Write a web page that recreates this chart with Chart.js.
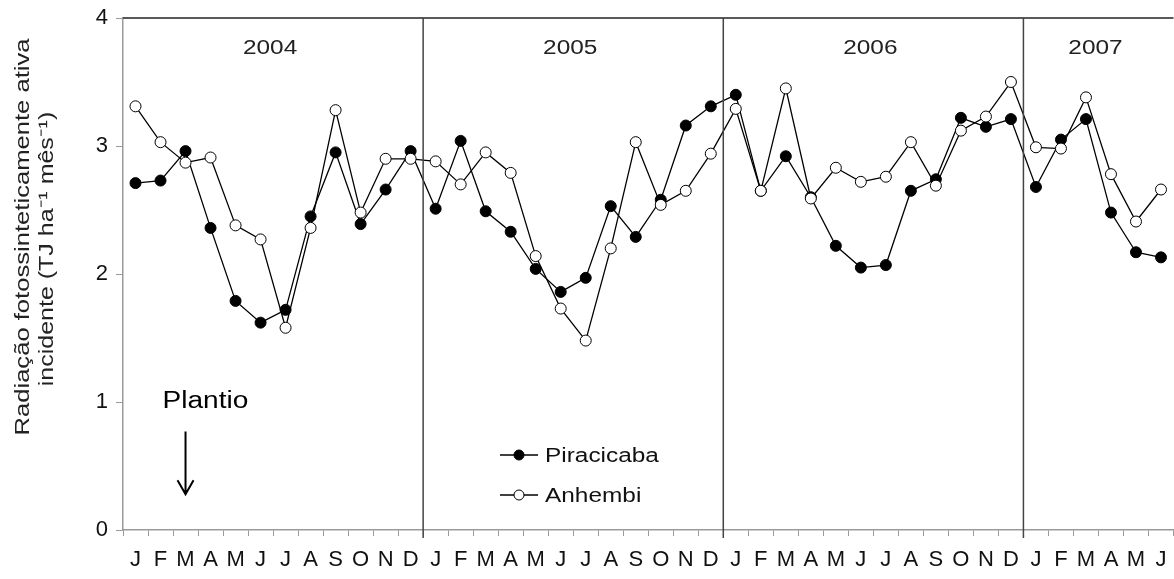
<!DOCTYPE html>
<html>
<head>
<meta charset="utf-8">
<script src="https://cdn.jsdelivr.net/npm/chart.js@4"></script>
<style>
  html, body { margin: 0; padding: 0; background: #fff; overflow: hidden; }
  /* slightly wider than the window: the source plot runs off the right edge */
  #wrap { width: 1180px; height: 579px; position: relative; }
</style>
</head>
<body>
<div id="wrap"><canvas id="chart"></canvas></div>
<script>
// ============ DATA ============
const MONTHS = ['J', 'F', 'M', 'A', 'M', 'J', 'J', 'A', 'S', 'O', 'N', 'D'];
const YEARS = ['2004', '2005', '2006', '2007'];
const MONTHS_PER_YEAR = [12, 12, 12, 6];

const PIRACICABA = [
  2.71, 2.73, 2.96, 2.36, 1.79, 1.62, 1.72, 2.45, 2.95, 2.39, 2.66, 2.96,
  2.51, 3.04, 2.49, 2.33, 2.04, 1.86, 1.97, 2.53, 2.29, 2.58, 3.16, 3.31,
  3.40, 2.65, 2.92, 2.60, 2.22, 2.05, 2.07, 2.65, 2.74, 3.22, 3.15, 3.21,
  2.68, 3.05, 3.21, 2.48, 2.17, 2.13
];
const ANHEMBI = [
  3.31, 3.03, 2.87, 2.91, 2.38, 2.27, 1.58, 2.36, 3.28, 2.48, 2.90, 2.90,
  2.88, 2.70, 2.95, 2.79, 2.14, 1.73, 1.48, 2.20, 3.03, 2.54, 2.65, 2.94,
  3.29, 2.65, 3.45, 2.59, 2.83, 2.72, 2.76, 3.03, 2.69, 3.12, 3.23, 3.50,
  2.99, 2.98, 3.38, 2.78, 2.41, 2.66
];
const Y_TICKS = [0, 1, 2, 3, 4];
const PLANTIO_INDEX = 2; // March 2004
const Y_TITLE = ['Radiação fotossinteticamente ativa', 'incidente (TJ ha⁻¹ mês⁻¹)'];

// labels built from the month/year lists
const labels = [];
YEARS.forEach((y, yi) => {
  for (let m = 0; m < MONTHS_PER_YEAR[yi]; m++) labels.push(MONTHS[m]);
});

const FONT = 'Liberation Sans, Arial, sans-serif';
const STRETCH = 1.22; // the source text is drawn a bit wide

// stretched text helper
function wideText(ctx, txt, x, y, align, k) {
  ctx.save();
  ctx.translate(x, y);
  ctx.scale(k || STRETCH, 1);
  ctx.textAlign = align || 'left';
  ctx.fillText(txt, 0, 0);
  ctx.restore();
}

// ============ OVERLAY (year dividers, legend, annotation) ============
const overlay = {
  id: 'overlay',
  afterDatasetsDraw(chart) {
    const { ctx, chartArea: a, scales: { x, y } } = chart;
    ctx.save();
    ctx.textBaseline = 'middle';

    // top border
    ctx.strokeStyle = '#222';
    ctx.lineWidth = 1.5;
    ctx.beginPath();
    ctx.moveTo(a.left, a.top);
    ctx.lineTo(a.right, a.top);
    ctx.stroke();

    // y axis title (two lines, rotated)
    ctx.save();
    ctx.font = '20px ' + FONT;
    ctx.fillStyle = '#222';
    ctx.rotate(-Math.PI / 2);
    wideText(ctx, Y_TITLE[0], -237, 23, 'center', 1.28);
    wideText(ctx, Y_TITLE[1], -249, 47, 'center', 1.25);
    ctx.restore();

    // year dividers + year labels
    let start = 0;
    ctx.font = '20px ' + FONT;
    ctx.fillStyle = '#222';
    YEARS.forEach((yr, yi) => {
      const end = start + MONTHS_PER_YEAR[yi];
      const x0 = yi === 0 ? a.left : (x.getPixelForValue(start - 1) + x.getPixelForValue(start)) / 2;
      const x1 = end >= labels.length ? a.right
        : (x.getPixelForValue(end - 1) + x.getPixelForValue(end)) / 2;
      wideText(ctx, yr, (x0 + x1) / 2 - 3, a.top + 30, 'center');
      if (end < labels.length) {
        ctx.strokeStyle = '#444';
        ctx.lineWidth = 1.5;
        ctx.beginPath();
        ctx.moveTo(x1, a.top);
        ctx.lineTo(x1, a.bottom + 8);
        ctx.stroke();
      }
      start = end;
    });

    // Plantio annotation
    const px = x.getPixelForValue(PLANTIO_INDEX);
    ctx.font = '23px ' + FONT;
    ctx.fillStyle = '#000';
    wideText(ctx, 'Plantio', px - 23, y.getPixelForValue(1.0), 'left');
    ctx.strokeStyle = '#000';
    ctx.lineWidth = 2;
    const ay0 = y.getPixelForValue(0.77), ay1 = y.getPixelForValue(0.28);
    ctx.beginPath();
    ctx.moveTo(px, ay0);
    ctx.lineTo(px, ay1);
    ctx.moveTo(px - 8, ay1 - 14);
    ctx.lineTo(px, ay1);
    ctx.lineTo(px + 8, ay1 - 14);
    ctx.stroke();

    // legend
    const items = [
      { label: 'Piracicaba', fill: '#000', y: 455 },
      { label: 'Anhembi', fill: '#fff', y: 495 },
    ];
    ctx.font = '20px ' + FONT;
    items.forEach(it => {
      ctx.strokeStyle = '#000';
      ctx.lineWidth = 1.3;
      ctx.beginPath();
      ctx.moveTo(500, it.y);
      ctx.lineTo(538, it.y);
      ctx.stroke();
      ctx.beginPath();
      ctx.arc(519, it.y, 5, 0, Math.PI * 2);
      ctx.fillStyle = it.fill;
      ctx.fill();
      ctx.lineWidth = 1;
      ctx.stroke();
      ctx.fillStyle = '#111';
      wideText(ctx, it.label, 545, it.y + 1, 'left');
    });

    ctx.restore();
  }
};

// ============ CHART ============
new Chart(document.getElementById('chart'), {
  type: 'line',
  data: {
    labels,
    datasets: [
      {
        label: 'Piracicaba', data: PIRACICABA, order: 1,
        borderColor: '#000', borderWidth: 1.3, backgroundColor: '#000',
        pointRadius: 5.5, pointBorderWidth: 1, pointBackgroundColor: '#000', pointBorderColor: '#000',
        tension: 0,
      },
      {
        label: 'Anhembi', data: ANHEMBI, order: 0,
        borderColor: '#000', borderWidth: 1.3, backgroundColor: '#fff',
        pointRadius: 5.5, pointBorderWidth: 1, pointBackgroundColor: '#fff', pointBorderColor: '#000',
        tension: 0,
      },
    ]
  },
  options: {
    responsive: true,
    maintainAspectRatio: false,
    animation: false,
    layout: { padding: { top: 18, right: 0, left: 0, bottom: 0 } },
    plugins: { legend: { display: false }, tooltip: { enabled: false } },
    scales: {
      x: {
        type: 'category',
        offset: true,
        grid: { offset: true, drawOnChartArea: false, tickLength: 6, color: '#999' },
        border: { color: '#999', width: 1.5 },
        ticks: { color: '#111', font: { size: 22, family: FONT }, padding: 11, autoSkip: false, maxRotation: 0 },
        afterFit: (s) => { s.height = 49; s.paddingLeft = 0; s.paddingRight = 0; },
      },
      y: {
        min: 0, max: 4,
        afterBuildTicks: (s) => { s.ticks = Y_TICKS.map(v => ({ value: v })); },
        grid: { drawOnChartArea: false, tickLength: 7, color: '#999' },
        border: { color: '#999', width: 1.5 },
        ticks: { color: '#111', font: { size: 22, family: FONT }, padding: 8 },
        afterFit: (s) => {
          s.width = 123;
          s.paddingTop = 0; s.paddingBottom = 0; s.paddingLeft = 0; s.paddingRight = 0;
        },
      }
    }
  },
  plugins: [overlay]
});
</script>
</body>
</html>
